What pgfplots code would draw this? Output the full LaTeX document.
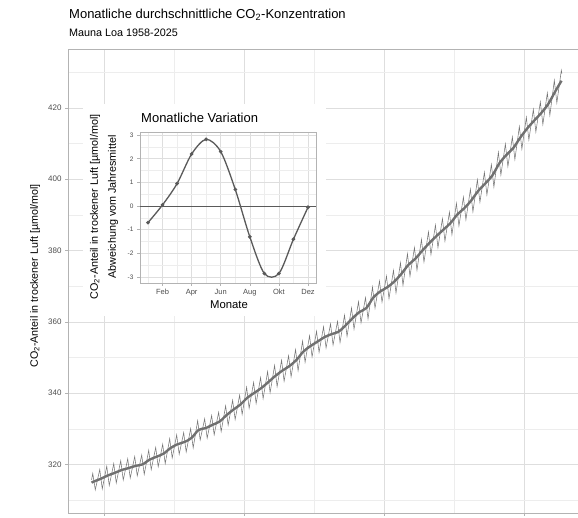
\documentclass[border=0pt]{standalone}
\usepackage{fontspec}
\setmainfont{Liberation Sans}
\usepackage{pgfplots}
\pgfplotsset{compat=1.18}

\definecolor{g30}{HTML}{4D4D4D}
\definecolor{g70}{HTML}{B3B3B3}
\definecolor{g87}{HTML}{DEDEDE}
\definecolor{g93}{HTML}{EDEDED}
\definecolor{zig}{HTML}{767676}
\definecolor{trend}{HTML}{707070}
\definecolor{curve}{HTML}{5A5A5A}

\pgfplotsset{
  lighttheme/.style={
    scale only axis, anchor=south west,
    axis line style={g70, line width=0.6pt},
    tick style={g70, line width=0.5pt},
    tick align=outside, tick pos=left,
    major tick length=3pt, minor tick length=0pt,
    grid=both,
    major grid style={g87, line width=0.5pt},
    minor grid style={g93, line width=0.3pt},
    /pgf/number format/assume math mode=true,
    ticklabel style={text=g30},
  }
}

\begin{document}
\begin{tikzpicture}
% main panel: monthly values (peaks in May, troughs in Sep/Oct) and yearly trend
\begin{axis}[lighttheme,
  at={(68pt,5pt)}, width=518pt, height=464pt,
  xmin=1954.83, xmax=2028.9, ymin=306.4, ymax=436.5,
  xtick={1960,1980,2000,2020}, minor xtick={1970,1990,2010},
  xticklabels={},
  ytick={320,340,...,420}, minor ytick={310,330,...,430},
  yticklabel style={font=\fontsize{8}{9}\selectfont},
  clip=false]
\addplot[zig, line width=0.55pt] coordinates {
(1958.20,315.7) (1958.37,317.5) (1958.73,312.9)
(1959.37,318.58) (1959.73,313.18)
(1960.37,319.51) (1960.73,314.11)
(1961.37,320.24) (1961.73,314.84)
(1962.37,321.05) (1962.73,315.65)
(1963.37,321.59) (1963.73,316.19)
(1964.37,322.22) (1964.73,316.82)
(1965.37,322.64) (1965.73,317.24)
(1966.37,323.97) (1966.73,318.57)
(1967.37,324.78) (1967.73,319.38)
(1968.37,325.65) (1968.73,320.25)
(1969.37,327.22) (1969.73,321.82)
(1970.37,328.28) (1970.73,322.88)
(1971.37,328.92) (1971.73,323.52)
(1972.37,330.06) (1972.73,324.66)
(1973.37,332.28) (1973.73,326.88)
(1974.37,332.79) (1974.73,327.39)
(1975.37,333.73) (1975.73,328.33)
(1976.37,334.63) (1976.73,329.23)
(1977.37,336.44) (1977.73,331.04)
(1978.37,338.01) (1978.73,332.61)
(1979.37,339.44) (1979.73,334.04)
(1980.37,341.66) (1980.73,335.76)
(1981.37,343.02) (1981.73,337.12)
(1982.37,344.38) (1982.73,338.48)
(1983.37,346.05) (1983.73,340.15)
(1984.37,347.77) (1984.73,341.87)
(1985.37,349.25) (1985.73,343.35)
(1986.37,350.51) (1986.73,344.61)
(1987.37,352.21) (1987.73,346.31)
(1988.37,354.59) (1988.73,348.69)
(1989.37,356.10) (1989.73,350.20)
(1990.37,357.35) (1990.73,351.45)
(1991.37,358.60) (1991.73,352.70)
(1992.37,359.44) (1992.73,353.54)
(1993.37,360.11) (1993.73,354.21)
(1994.37,361.86) (1994.73,355.96)
(1995.37,363.87) (1995.73,357.97)
(1996.37,365.64) (1996.73,359.74)
(1997.37,366.78) (1997.73,360.88)
(1998.37,369.74) (1998.73,363.84)
(1999.37,371.44) (1999.73,365.54)
(2000.37,372.81) (2000.73,366.51)
(2001.37,374.42) (2001.73,368.12)
(2002.37,376.55) (2002.73,370.25)
(2003.37,379.08) (2003.73,372.78)
(2004.37,380.80) (2004.73,374.50)
(2005.37,383.08) (2005.73,376.78)
(2006.37,385.19) (2006.73,378.89)
(2007.37,387.12) (2007.73,380.82)
(2008.37,388.93) (2008.73,382.63)
(2009.37,390.74) (2009.73,384.44)
(2010.37,393.20) (2010.73,386.90)
(2011.37,394.95) (2011.73,388.65)
(2012.37,397.16) (2012.73,390.86)
(2013.37,399.84) (2013.73,393.54)
(2014.37,401.91) (2014.73,395.61)
(2015.37,404.11) (2015.73,397.81)
(2016.37,407.51) (2016.73,401.21)
(2017.37,409.86) (2017.73,403.56)
(2018.37,411.82) (2018.73,405.52)
(2019.37,414.76) (2019.73,408.46)
(2020.37,417.34) (2020.73,411.04)
(2021.37,419.55) (2021.73,413.25)
(2022.37,421.66) (2022.73,415.36)
(2023.37,424.18) (2023.73,417.88)
(2024.37,427.71) (2024.73,421.41)
(2025.37,430.50) (2025.45,429.6)
};
\addplot[trend, line width=2.4pt, smooth] coordinates {
(1958.2,314.9) (1958.5,315.2) (1959.5,315.98) (1960.5,316.91) (1961.5,317.64)
(1962.5,318.45) (1963.5,318.99) (1964.5,319.62) (1965.5,320.04) (1966.5,321.37)
(1967.5,322.18) (1968.5,323.05) (1969.5,324.62) (1970.5,325.68) (1971.5,326.32)
(1972.5,327.46) (1973.5,329.68) (1974.5,330.19) (1975.5,331.13) (1976.5,332.03)
(1977.5,333.84) (1978.5,335.41) (1979.5,336.84) (1980.5,338.76) (1981.5,340.12)
(1982.5,341.48) (1983.5,343.15) (1984.5,344.87) (1985.5,346.35) (1986.5,347.61)
(1987.5,349.31) (1988.5,351.69) (1989.5,353.20) (1990.5,354.45) (1991.5,355.70)
(1992.5,356.54) (1993.5,357.21) (1994.5,358.96) (1995.5,360.97) (1996.5,362.74)
(1997.5,363.88) (1998.5,366.84) (1999.5,368.54) (2000.5,369.71) (2001.5,371.32)
(2002.5,373.45) (2003.5,375.98) (2004.5,377.70) (2005.5,379.98) (2006.5,382.09)
(2007.5,384.02) (2008.5,385.83) (2009.5,387.64) (2010.5,390.10) (2011.5,391.85)
(2012.5,394.06) (2013.5,396.74) (2014.5,398.81) (2015.5,401.01) (2016.5,404.41)
(2017.5,406.76) (2018.5,408.72) (2019.5,411.66) (2020.5,414.24) (2021.5,416.45)
(2022.5,418.56) (2023.5,421.08) (2024.5,424.61) (2025.4,427.6)
};
\end{axis}

% titles and main y label
\node[anchor=west, inner sep=0pt, font=\fontsize{13}{15}\selectfont] at (69pt,503pt)
  {Monatliche durchschnittliche CO\textsubscript{2}-Konzentration};
\node[anchor=west, inner sep=0pt, font=\fontsize{10.8}{12}\selectfont] at (69pt,485pt)
  {Mauna Loa 1958-2025};
\node[rotate=90, inner sep=0pt, font=\fontsize{10.7}{12}\selectfont] at (35pt,242pt)
  {CO\textsubscript{2}-Anteil in trockener Luft [µmol/mol]};

% inset background
\fill[white] (83pt,202pt) rectangle (326pt,414pt);

\begin{axis}[lighttheme,
  at={(140pt,235pt)}, width=176pt, height=151pt,
  xmin=0.45, xmax=12.55, ymin=-3.25, ymax=3.13,
  xtick={2,4,...,12}, xticklabels={Feb,Apr,Jun,Aug,Okt,Dez},
  minor xtick={1,3,...,11},
  ytick={-3,...,3}, minor ytick={-2.5,-1.5,...,2.5},
  xticklabel style={font=\fontsize{7.5}{9}\selectfont},
  yticklabel style={font=\fontsize{6.5}{8}\selectfont},
  axis background/.style={fill=white}]
\addplot[curve, line width=0.7pt, forget plot] coordinates {(0.45,0) (12.55,0)};
\addplot[curve, line width=1.3pt, smooth, mark=*, mark size=1.1pt,
  mark options={fill=curve, draw=curve}] coordinates {
(1,-0.7) (2,0.05) (3,0.95) (4,2.2) (5,2.82) (6,2.3)
(7,0.7) (8,-1.3) (9,-2.85) (10,-2.85) (11,-1.4) (12,-0.05)
};
\end{axis}

\node[anchor=west, inner sep=0pt, font=\fontsize{13}{15}\selectfont] at (141pt,400pt)
  {Monatliche Variation};
\node[rotate=90, inner sep=0pt, font=\fontsize{10.8}{12}\selectfont] at (95pt,311pt)
  {CO\textsubscript{2}-Anteil in trockener Luft [µmol/mol]};
\node[rotate=90, inner sep=0pt, font=\fontsize{10.8}{12}\selectfont] at (113pt,311pt)
  {Abweichung vom Jahresmittel};
\node[inner sep=0pt, font=\fontsize{11.3}{13}\selectfont] at (229pt,213pt) {Monate};

\pgfresetboundingbox
\useasboundingbox (0pt,0pt) rectangle (578pt,518pt);
\end{tikzpicture}
\end{document}
